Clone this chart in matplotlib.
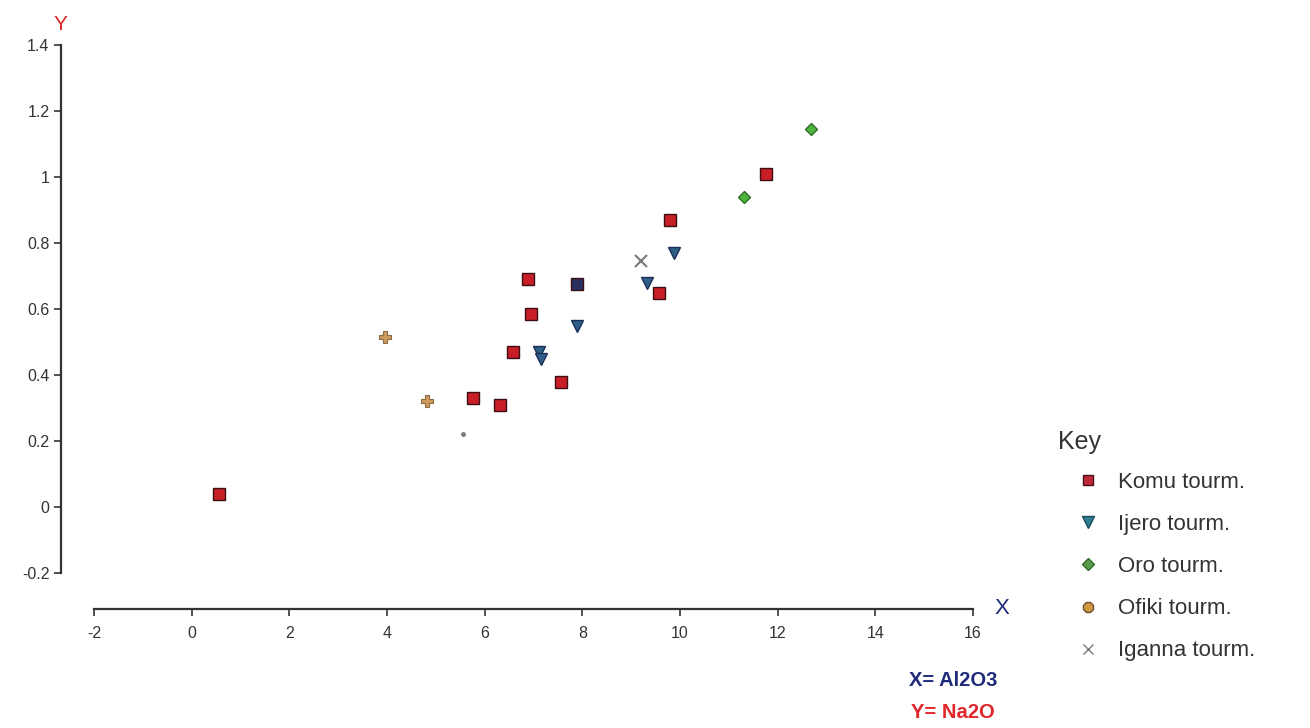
import matplotlib
matplotlib.use("Agg")
import matplotlib.pyplot as plt
from matplotlib.lines import Line2D

plt.rcParams['font.family'] = ['Liberation Sans', 'DejaVu Sans']

# Al2O3 (x) vs Na2O (y) for tourmalines from each locality
komu_x = [0.55, 5.77, 6.32, 6.58, 6.89, 6.95, 7.56, 7.89, 9.57, 9.79, 11.76]
komu_y = [0.04, 0.33, 0.31, 0.47, 0.69, 0.585, 0.38, 0.675, 0.65, 0.87, 1.01]
komu_fill = ['#c81e26'] * 7 + ['#2a2f5e'] + ['#c81e26'] * 3

ijero_x = [7.11, 7.16, 7.89, 9.32, 9.88]
ijero_y = [0.47, 0.45, 0.55, 0.68, 0.77]

oro_x = [11.31, 12.68]
oro_y = [0.94, 1.145]

ofiki_x = [3.95, 4.82]
ofiki_y = [0.515, 0.32]

iganna_x = [9.20, 5.56]
iganna_y = [0.745, 0.22]
iganna_size = [9, 2]

x_ticks = list(range(-2, 17, 2))
y_ticks = [-0.2, 0, 0.2, 0.4, 0.6, 0.8, 1, 1.2, 1.4]
y_tick_labels = ['-0.2', '0', '0.2', '0.4', '0.6', '0.8', '1', '1.2', '1.4']

series_names = ['Komu tourm.', 'Ijero tourm.', 'Oro tourm.', 'Ofiki tourm.', 'Iganna tourm.']

W, H = 1310, 728
fig = plt.figure(figsize=(W / 100, H / 100), dpi=100)
ax = fig.add_axes([94 / W, 1 - 573 / H, 879 / W, 528 / H])

ax.set_xlim(-2, 16)
ax.set_ylim(-0.2, 1.4)

# markers
for x, y, c in zip(komu_x, komu_y, komu_fill):
    ax.plot(x, y, 's', ms=8.5, mfc=c, mec='#3a0e12', mew=1.0, zorder=3)
ax.plot(ijero_x, ijero_y, 'v', ls='none', ms=9, mfc='#2f5f86', mec='#1c2e58', mew=1.0, zorder=3)
ax.plot(oro_x, oro_y, 'D', ls='none', ms=6.5, mfc='#4fb43c', mec='#2f6e2a', mew=1.0, zorder=3)
ax.plot(ofiki_x, ofiki_y, 'P', ls='none', ms=8.5, mfc='#cf9a5c', mec='#8d6a42', mew=0.8, zorder=3)
for x, y, s in zip(iganna_x, iganna_y, iganna_size):
    ax.plot(x, y, 'x' if s > 4 else 'o', ms=s, color='#7a7a7a', mew=1.5, zorder=3)

# detached axes
for side in ('top', 'right'):
    ax.spines[side].set_visible(False)
ax.spines['left'].set_position(('outward', 24))
ax.spines['bottom'].set_position(('outward', 26))
for side in ('left', 'bottom'):
    ax.spines[side].set_color('#333333')
    ax.spines[side].set_linewidth(1.6)
ax.spines['left'].set_bounds(-0.2, 1.4)
ax.spines['bottom'].set_bounds(-2, 16)

ax.set_xticks(x_ticks)
ax.set_xticklabels([str(t) for t in x_ticks])
ax.set_yticks(y_ticks)
ax.set_yticklabels(y_tick_labels)
ax.tick_params(axis='both', direction='out', length=5, width=1.2, color='#333333',
               labelsize=11.5, labelcolor='#333333', pad=3)
ax.tick_params(axis='x', pad=7)

# axis letters and definitions
fig.text(60 / W, 1 - 25 / H, 'Y', color='#e0262a', fontsize=15, ha='center', va='center')
fig.text(1002 / W, 1 - 608 / H, 'X', color='#1f2a7a', fontsize=16, ha='center', va='center')
fig.text(953 / W, 1 - 681 / H, 'X= Al2O3', color='#1f2a7a', fontsize=14.5,
         fontweight='bold', ha='center', va='center')
fig.text(953 / W, 1 - 713 / H, 'Y= Na2O', color='#e0262a', fontsize=14.5,
         fontweight='bold', ha='center', va='center')

# key
fig.text(1058 / W, 1 - 442 / H, 'Key', color='#333333', fontsize=18, ha='left', va='center')
handles = [
    Line2D([], [], marker='s', ls='none', ms=7, mfc='#c0283a', mec='#4a1018'),
    Line2D([], [], marker='v', ls='none', ms=8.5, mfc='#2f7f93', mec='#1c4a5a'),
    Line2D([], [], marker='D', ls='none', ms=6, mfc='#5b9a4a', mec='#2f6e2a'),
    Line2D([], [], marker='8', ls='none', ms=8, mfc='#d4973f', mec='#6a5030'),
    Line2D([], [], marker='x', ls='none', ms=7, color='#7a7a7a', mew=1.0),
]
leg = fig.legend(handles, series_names, loc='upper left',
                 bbox_to_anchor=(1077 / W, 1 - 472 / H), frameon=False,
                 fontsize=16, handlelength=1.0, handletextpad=0.85,
                 labelspacing=0.95, borderpad=0.0, borderaxespad=0.0)
for t in leg.get_texts():
    t.set_color('#333333')

fig.savefig('out.png', dpi=100)
